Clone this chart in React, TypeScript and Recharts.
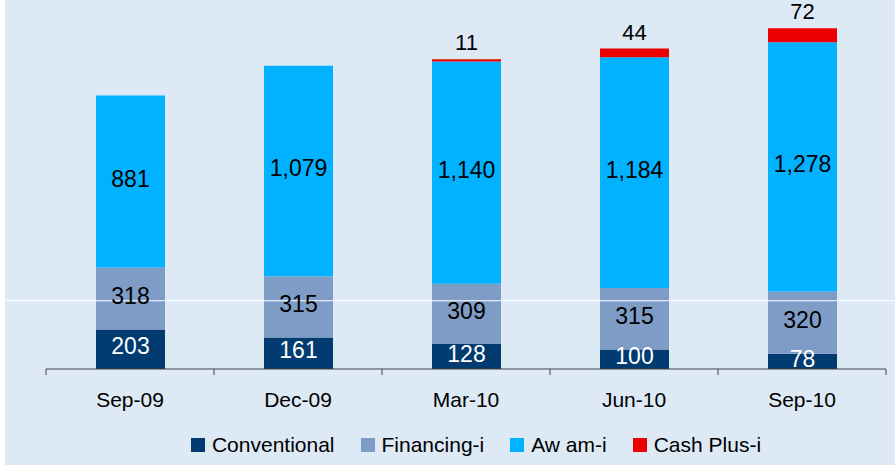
import React from 'react';
import { BarChart, Bar, XAxis, YAxis, LabelList, Legend, ReferenceLine } from 'recharts';

const categories = ['Sep-09', 'Dec-09', 'Mar-10', 'Jun-10', 'Sep-10'];
const conventional = [203, 161, 128, 100, 78];
const financingI = [318, 315, 309, 315, 320];
const awamI = [881, 1079, 1140, 1184, 1278];
const cashPlusI: (number | null)[] = [null, null, 11, 44, 72];

const seriesNames = ['Conventional', 'Financing-i', 'Aw am-i', 'Cash Plus-i'];
const seriesKeys = ['conventional', 'financingI', 'awamI', 'cashPlusI'];
const seriesColors = ['#013b6f', '#7f9cc6', '#00b2ff', '#ee0000'];

const data = categories.map((c, i) => ({
  name: c,
  conventional: conventional[i],
  financingI: financingI[i],
  awamI: awamI[i],
  cashPlusI: cashPlusI[i],
}));

const FONT = '"Liberation Sans", Arial, sans-serif';

const fmt = (v: any) => (v == null ? '' : Number(v).toLocaleString('en-US'));

const CatTick = (props: any) => {
  const { x, y, payload, index, visibleTicksCount } = props;
  const off = payload && payload.offset != null ? payload.offset : 84;
  return (
    <g>
      <line x1={x - off} x2={x - off} y1={y} y2={y + 6} stroke="#404040" strokeWidth={1} />
      {index === visibleTicksCount - 1 && (
        <line x1={x + off} x2={x + off} y1={y} y2={y + 6} stroke="#404040" strokeWidth={1} />
      )}
      <text x={x} y={y + 38} textAnchor="middle" fontFamily={FONT} fontSize={21} fill="#000">
        {payload.value}
      </text>
    </g>
  );
};

const LegendContent = () => (
  <div
    style={{
      display: 'flex',
      justifyContent: 'center',
      alignItems: 'center',
      height: 30,
      fontFamily: FONT,
      fontSize: 21,
      color: '#000',
      paddingLeft: 52,
    }}
  >
    {seriesNames.map((n, i) => (
      <div key={n} style={{ display: 'flex', alignItems: 'center', marginRight: i < seriesNames.length - 1 ? 26 : 0 }}>
        <span style={{ display: 'inline-block', width: 14, height: 14, background: seriesColors[i], marginRight: 7 }} />
        <span style={{ whiteSpace: 'pre' }}>{n}</span>
      </div>
    ))}
  </div>
);

const WideLine = (props: any) => (
  <line x1={0} x2={890} y1={props.y1} y2={props.y1} stroke="#ffffff" strokeWidth={1} />
);

export default function App() {
  return (
    <div style={{ position: 'absolute', left: 5, top: 0, width: 890, height: 465, background: '#dde9f5' }}>
      <BarChart
        width={890}
        height={465}
        data={data}
        margin={{ top: 18, right: 9, bottom: 26, left: 41 }}
        barSize={69}
      >
        <XAxis
          dataKey="name"
          interval={0}
          tickSize={0}
          tickMargin={0}
          height={40}
          axisLine={{ stroke: '#404040', strokeWidth: 1 }}
          tickLine={false}
          tick={<CatTick />}
        />
        <YAxis hide domain={[0, 1800]} />
        <Bar dataKey="conventional" stackId="a" fill={seriesColors[0]} isAnimationActive={false}>
          <LabelList dataKey="conventional" position="center" dy={-3} fill="#ffffff" fontSize={23} fontFamily={FONT} formatter={fmt} />
        </Bar>
        <Bar dataKey="financingI" stackId="a" fill={seriesColors[1]} isAnimationActive={false}>
          <LabelList dataKey="financingI" position="center" dy={-3} fill="#000" fontSize={23} fontFamily={FONT} formatter={fmt} />
        </Bar>
        <Bar dataKey="awamI" stackId="a" fill={seriesColors[2]} isAnimationActive={false}>
          <LabelList dataKey="awamI" position="center" dy={-3} fill="#000" fontSize={23} fontFamily={FONT} formatter={fmt} />
        </Bar>
        <Bar dataKey="cashPlusI" stackId="a" fill={seriesColors[3]} isAnimationActive={false}>
          <LabelList dataKey="cashPlusI" position="top" offset={9} fill="#000" fontSize={22} fontFamily={FONT} formatter={fmt} />
        </Bar>
        <ReferenceLine y={350} ifOverflow="visible" shape={<WideLine />} />
        <Legend
          verticalAlign="bottom"
          content={<LegendContent />}
          wrapperStyle={{ left: 0, width: 890, bottom: 5, height: 30 }}
        />
      </BarChart>
    </div>
  );
}
